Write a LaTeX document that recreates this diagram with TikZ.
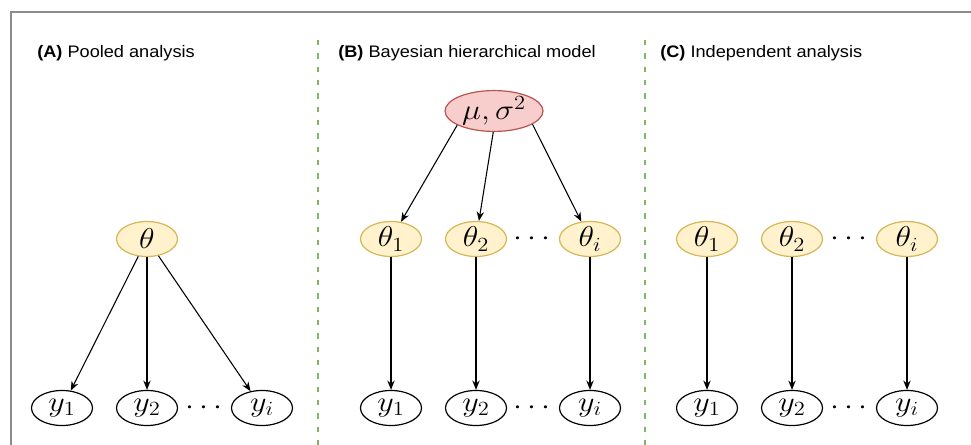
\RequirePackage{fix-cm}
\documentclass[tikz,border=0pt]{standalone}
\usepackage[no-math]{fontspec}
\newfontfamily\labfont{Liberation Sans}
\usepackage{graphicx}
\usetikzlibrary{shapes.geometric,arrows.meta}
\definecolor{yfill}{HTML}{FFF2CC}
\definecolor{ydraw}{HTML}{D6B656}
\definecolor{rfill}{HTML}{F8CECC}
\definecolor{rdraw}{HTML}{B85450}
\definecolor{gdash}{HTML}{82B366}
\definecolor{framegray}{HTML}{8C8C8C}
\newcommand{\lab}[2]{\scalebox{1.09}[1]{\labfont\fontsize{12.5}{15}\selectfont\textbf{#1} #2}}
\newcommand{\mth}[1]{\scalebox{1.12}[1]{\fontsize{21.5}{25}\selectfont$#1$}}
\begin{document}
\begin{tikzpicture}[x=0.75pt,y=-0.75pt,
  lbl/.style={anchor=base west, inner sep=0},
  ynode/.style={ellipse, draw=black, line width=0.9pt, minimum width=45.75pt, minimum height=26.25pt, inner sep=0},
  tnode/.style={ynode, draw=ydraw, fill=yfill},
  munode/.style={ellipse, draw=rdraw, fill=rfill, line width=0.9pt, minimum width=73.5pt, minimum height=27.75pt, inner sep=0},
  arr/.style={-{Stealth[length=7pt,width=5.5pt]}, line width=0.8pt},
  arrb/.style={arr, line width=1.1pt},
  sep/.style={gdash, line width=1.5pt, dash pattern=on 4pt off 6pt},
  dotsn/.style={inner sep=0}]
\useasboundingbox (0,0) rectangle (971,445);
% frame
\coordinate (fa) at (11,445);
\coordinate (fb) at (11,12);
\coordinate (fc) at (971,12);
\draw[framegray, line width=1.5pt] (fa) -- (fb) -- (fc);
% separators
\coordinate (s1t) at (318,40); \coordinate (s1b) at (318,445);
\coordinate (s2t) at (645,40); \coordinate (s2b) at (645,445);
\draw[sep] (s1t) -- (s1b);
\draw[sep] (s2t) -- (s2b);
% labels
\node[lbl] (la) at (37,58) {\lab{(A)}{Pooled analysis}};
\node[lbl] (lb) at (338,58) {\lab{(B)}{Bayesian hierarchical model}};
\node[lbl] (lc) at (660,58) {\lab{(C)}{Independent analysis}};
% panel A
\node[tnode] (at) at (147,239) {\mth{\theta}};
\node[ynode] (ay1) at (62,408) {\mth{y_1}};
\node[ynode] (ay2) at (147,408) {\mth{y_2}};
\node[ynode] (ayi) at (262,408) {\mth{y_i}};
\node[dotsn] (ad) at (204,408) {\mth{\cdots}};
\draw[arr] (at) -- (ay1);
\draw[arr] (at) -- (ay2);
\draw[arr] (at) -- (ayi);
% panel B
\node[munode] (bm) at (494,111) {\mth{\mu,\sigma^2}};
\node[tnode] (bt1) at (391,239) {\mth{\theta_1}};
\node[tnode] (bt2) at (476,239) {\mth{\theta_2}};
\node[tnode] (bti) at (590,239) {\mth{\theta_i}};
\node[dotsn] (btd) at (532,239) {\mth{\cdots}};
\node[ynode] (by1) at (391,408) {\mth{y_1}};
\node[ynode] (by2) at (476,408) {\mth{y_2}};
\node[ynode] (byi) at (590,408) {\mth{y_i}};
\node[dotsn] (byd) at (532,408) {\mth{\cdots}};
\draw[arr] (bm.201) -- (bt1);
\draw[arr] (bm.268) -- (bt2);
\draw[arr] (bm.-19) -- (bti);
\draw[arrb] (bt1) -- (by1);
\draw[arrb] (bt2) -- (by2);
\draw[arrb] (bti) -- (byi);
% panel C
\node[tnode] (ct1) at (707,239) {\mth{\theta_1}};
\node[tnode] (ct2) at (792,239) {\mth{\theta_2}};
\node[tnode] (cti) at (907,239) {\mth{\theta_i}};
\node[dotsn] (ctd) at (849,239) {\mth{\cdots}};
\node[ynode] (cy1) at (707,408) {\mth{y_1}};
\node[ynode] (cy2) at (792,408) {\mth{y_2}};
\node[ynode] (cyi) at (907,408) {\mth{y_i}};
\node[dotsn] (cyd) at (849,408) {\mth{\cdots}};
\draw[arr] (ct1) -- (cy1);
\draw[arr] (ct2) -- (cy2);
\draw[arr] (cti) -- (cyi);
\end{tikzpicture}
\end{document}
